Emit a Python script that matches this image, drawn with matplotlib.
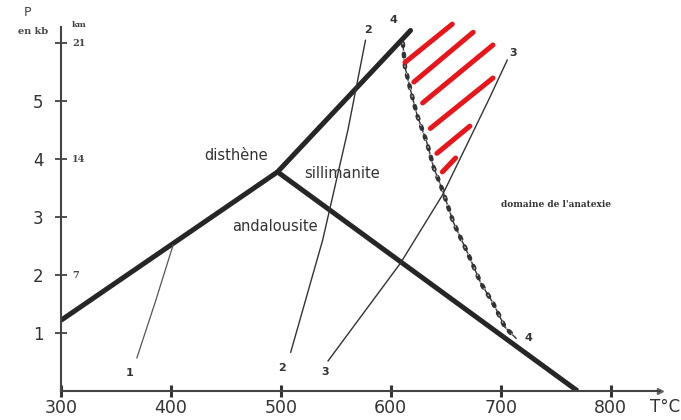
import matplotlib
matplotlib.use('Agg')
import matplotlib.pyplot as plt

# axes ticks
t_ticks = [300, 400, 500, 600, 700, 800]
p_ticks = [1, 2, 3, 4, 5, 6]
p_labels = ['1', '2', '3', '4', '5', '']
km_pos = [2, 4, 6]
km_labels = ['7', '14', '21']

# Al2SiO5 reactions (T en °C, P en kb)
ky_and_T = [300, 497]
ky_and_P = [1.22, 3.78]
ky_sil_T = [497, 618]
ky_sil_P = [3.78, 6.22]
and_sil_T = [497, 770]
and_sil_P = [3.78, 0.0]

# courbe 1 (renvoi)
c1_T = [369, 386, 402]
c1_P = [0.57, 1.55, 2.52]
# courbe 2
c2_T = [509, 538, 561, 577]
c2_P = [0.67, 2.60, 4.50, 6.05]
# courbe 3
c3_T = [543, 584, 609, 647, 689, 706]
c3_P = [0.52, 1.57, 2.21, 3.38, 5.02, 5.71]
# courbe 4 (solidus)
c4_T = [611, 613, 618, 624, 633, 639, 647, 657, 670, 682, 693, 704, 714]
c4_P = [6.00, 5.59, 5.19, 4.76, 4.28, 3.86, 3.47, 2.91, 2.38, 1.86, 1.52, 1.10, 0.91]

# hachures rouges (debut, fin)
hatch_T0 = [613, 621, 629, 636, 642, 647]
hatch_P0 = [5.67, 5.33, 4.97, 4.53, 4.10, 3.78]
hatch_T1 = [656, 675, 693, 693, 672, 659]
hatch_P1 = [6.33, 6.19, 5.97, 5.40, 4.57, 4.02]

ink = '#262626'

fig = plt.figure(figsize=(6.81, 4.2), dpi=100)
ax = fig.add_axes([0.0896, 0.069, 0.8796, 0.8667])
ax.set_xlim(300, 845)
ax.set_ylim(0, 6.28)

for s in ['top', 'right']:
    ax.spines[s].set_visible(False)
for s in ['left', 'bottom']:
    ax.spines[s].set_color('#444444')
    ax.spines[s].set_linewidth(1.5)

ax.plot(1, 0, '>', color='#666666', ms=5, transform=ax.get_yaxis_transform(), clip_on=False)
ax.plot(0, 1, '^', color='#666666', ms=5, transform=ax.get_xaxis_transform(), clip_on=False)

ax.set_xticks(t_ticks)
ax.set_xticklabels([str(t) for t in t_ticks], fontsize=12.5, color='#333333')
ax.set_yticks(p_ticks)
ax.set_yticklabels(p_labels, fontsize=12, color='#333333')
ax.tick_params(axis='x', direction='inout', length=9, width=2.2, pad=1, colors='#333333')
ax.tick_params(axis='y', direction='inout', length=9, width=1.2, pad=8, colors='#333333')

for p, lab in zip(km_pos, km_labels):
    ax.text(310, p, lab, fontsize=7, family='DejaVu Serif', fontweight='bold',
            color='#444444', ha='left', va='center')
ax.text(310, 6.32, 'km', fontsize=6, family='DejaVu Serif', fontweight='bold',
        color='#444444', ha='left', va='center', clip_on=False)
fig.text(27 / 681, 1 - 12 / 420, 'P', fontsize=9, color='#444444', ha='center', va='center')
fig.text(33 / 681, 1 - 32 / 420, 'en kb', fontsize=7, family='DejaVu Serif',
         fontweight='bold', color='#444444', ha='center', va='center')
fig.text(665 / 681, 1 - 407 / 420, 'T°C', fontsize=12, color='#333333', ha='center', va='center')

# lignes epaisses
ax.plot(ky_and_T, ky_and_P, color=ink, lw=3.6, solid_capstyle='butt')
ax.plot(ky_sil_T, ky_sil_P, color=ink, lw=3.6, solid_capstyle='round')
ax.plot(and_sil_T, and_sil_P, color=ink, lw=3.6, solid_capstyle='butt')

# courbes fines
ax.plot(c1_T, c1_P, color='#555555', lw=0.9)
ax.plot(c2_T, c2_P, color='#333333', lw=1.0)
ax.plot(c3_T, c3_P, color='#333333', lw=1.0)
ax.plot(c4_T, c4_P, color='#333333', lw=1.0)
ax.plot(c4_T, c4_P, color='#333333', lw=3.2, linestyle=(0, (0.6, 1.8)),
        dash_capstyle='round')
ax.plot(c4_T, c4_P, color='#bbbbbb', lw=1.0, linestyle=(0, (0.5, 5.0)),
        dash_capstyle='round')

for t0, p0, t1, p1 in zip(hatch_T0, hatch_P0, hatch_T1, hatch_P1):
    ax.plot([t0, t1], [p0, p1], color='#e8161b', lw=3.6, solid_capstyle='round', clip_on=False)

# numeros des courbes
num_kw = dict(fontsize=8, fontweight='bold', color='#333333', ha='center', va='center', clip_on=False)
ax.text(362, 0.31, '1', **num_kw)
ax.text(501, 0.40, '2', **num_kw)
ax.text(579, 6.22, '2', **num_kw)
ax.text(540, 0.33, '3', **num_kw)
ax.text(711, 5.84, '3', **num_kw)
ax.text(602, 6.40, '4', **num_kw)
ax.text(725, 0.91, '4', **num_kw)

lab_kw = dict(fontsize=10.5, color='#333333', ha='center', va='center')
ax.text(459, 4.07, 'disthène', **lab_kw)
ax.text(556, 3.76, 'sillimanite', **lab_kw)
ax.text(495, 2.83, 'andalousite', **lab_kw)
ax.text(750, 3.21, "domaine de l'anatexie", fontsize=6.5, family='DejaVu Serif',
        fontweight='bold', color='#333333', ha='center', va='center')

fig.savefig('out.png', dpi=100)
